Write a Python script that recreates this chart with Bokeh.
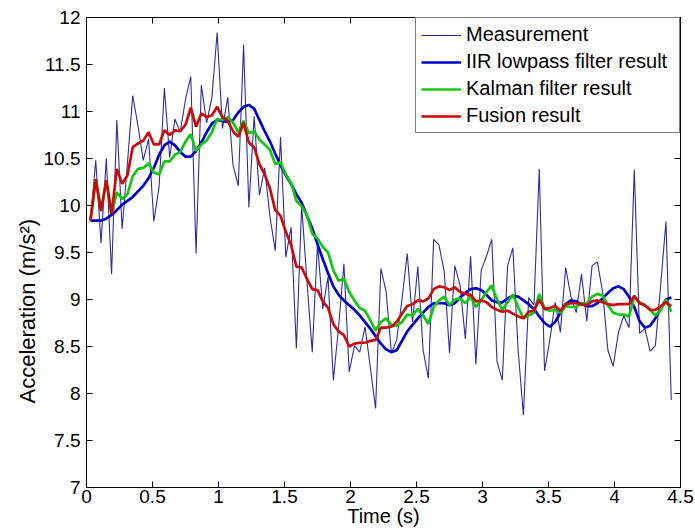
import numpy as np
from bokeh.plotting import figure
from bokeh.models import Range1d, LinearAxis, FixedTicker, Title
from bokeh.embed import file_html
from bokeh.resources import INLINE

# ---- data ----
t_start = 0.03
sample_period = 0.04

measurement = [
    9.84, 10.48, 9.60, 10.50, 9.27, 10.91, 9.75, 10.45, 11.17, 10.85,
    10.48, 10.71, 9.83, 10.20, 11.25, 10.51, 10.92, 10.78, 11.13, 11.37,
    9.49, 11.28, 10.88, 11.15, 11.84, 10.82, 11.15, 10.43, 10.21, 11.71,
    9.98, 10.95, 10.11, 10.40, 9.88, 9.52, 10.73, 9.45, 9.77, 8.48,
    10.00, 9.20, 8.44, 9.59, 8.90, 9.24, 8.14, 8.71, 9.38, 8.23,
    8.51, 8.44, 8.71, 8.28, 7.84, 9.33, 9.08, 8.43, 8.57, 9.00,
    9.49, 8.76, 9.35, 8.46, 8.16, 9.64, 9.58, 9.30, 8.43, 9.36,
    9.15, 8.58, 9.46, 8.31, 9.31, 9.46, 9.64, 8.34, 8.14, 9.36,
    9.55, 8.46, 7.77, 9.02, 8.94, 10.39, 8.24, 8.57, 8.97, 8.65,
    9.34, 9.03, 8.86, 9.27, 8.77, 9.36, 9.40, 9.08, 8.46, 8.29,
    8.65, 8.83, 8.70, 10.38, 8.64, 8.69, 8.45, 8.51, 9.16, 9.83,
    7.93,
]

iir = [
    9.84, 9.84, 9.84, 9.86, 9.90, 9.95, 10.01, 10.05, 10.09, 10.15,
    10.21, 10.29, 10.40, 10.54, 10.64, 10.68, 10.64, 10.57, 10.52, 10.52,
    10.58, 10.67, 10.78, 10.87, 10.91, 10.90, 10.89, 10.91, 10.99, 11.05,
    11.07, 11.03, 10.91, 10.79, 10.68, 10.55, 10.43, 10.32, 10.23, 10.12,
    10.03, 9.89, 9.76, 9.59, 9.43, 9.28, 9.14, 9.05, 8.99, 8.94,
    8.89, 8.83, 8.76, 8.69, 8.61, 8.53, 8.47, 8.44, 8.46, 8.56,
    8.66, 8.73, 8.80, 8.86, 8.92, 8.96, 8.96, 8.96, 8.94, 8.96,
    9.02, 9.07, 9.11, 9.12, 9.10, 9.05, 8.99, 8.97, 8.97, 9.01,
    9.04, 9.03, 8.99, 8.95, 8.90, 8.82, 8.75, 8.71, 8.76, 8.86,
    8.95, 8.99, 8.98, 8.95, 8.93, 8.93, 8.96, 9.01, 9.07, 9.12,
    9.14, 9.11, 9.03, 8.92, 8.77, 8.70, 8.72, 8.80, 8.90, 9.00,
    9.02,
]

kalman = [
    9.84, 10.28, 9.94, 10.27, 9.91, 10.14, 10.07, 10.12, 10.31, 10.39,
    10.40, 10.45, 10.35, 10.33, 10.47, 10.47, 10.54, 10.57, 10.68, 10.76,
    10.58, 10.65, 10.69, 10.78, 10.92, 10.91, 10.94, 10.88, 10.78, 10.90,
    10.77, 10.79, 10.70, 10.65, 10.59, 10.44, 10.46, 10.33, 10.24, 10.05,
    9.99, 9.90, 9.70, 9.65, 9.56, 9.50, 9.31, 9.20, 9.22, 9.08,
    8.99, 8.91, 8.88, 8.78, 8.67, 8.76, 8.80, 8.73, 8.72, 8.76,
    8.84, 8.83, 8.90, 8.83, 8.74, 8.92, 8.99, 9.03, 8.94, 9.00,
    9.01, 8.96, 9.03, 8.92, 8.99, 9.08, 9.15, 9.00, 8.89, 8.97,
    9.05, 8.92, 8.80, 8.83, 8.86, 9.06, 8.90, 8.88, 8.89, 8.86,
    8.93, 8.92, 8.92, 8.96, 8.96, 9.03, 9.06, 9.04, 8.94, 8.86,
    8.84, 8.84, 8.82, 9.03, 8.97, 8.94, 8.89, 8.83, 8.89, 9.00,
    8.87,
]

fusion = [
    9.84, 10.28, 9.94, 10.27, 9.91, 10.39, 10.23, 10.32, 10.62, 10.66,
    10.69, 10.78, 10.65, 10.65, 10.80, 10.75, 10.80, 10.79, 10.86, 11.04,
    10.84, 10.98, 10.94, 10.96, 11.05, 10.94, 10.90, 10.79, 10.73, 10.88,
    10.67, 10.62, 10.44, 10.33, 10.18, 9.95, 9.89, 9.72, 9.58, 9.35,
    9.34, 9.22, 9.11, 9.10, 8.98, 8.91, 8.74, 8.66, 8.62, 8.50,
    8.53, 8.54, 8.54, 8.56, 8.57, 8.70, 8.70, 8.71, 8.76, 8.85,
    8.93, 8.95, 8.99, 8.98, 9.01, 9.11, 9.14, 9.13, 9.10, 9.13,
    9.08, 9.06, 9.05, 8.98, 8.99, 8.97, 8.92, 8.89, 8.87, 8.88,
    8.85, 8.82, 8.80, 8.87, 8.88, 9.00, 8.90, 8.91, 8.93, 8.88,
    8.95, 8.96, 8.96, 8.95, 8.94, 8.98, 8.99, 8.97, 8.95, 8.94,
    8.95, 8.95, 8.95, 9.04, 8.96, 8.94, 8.89, 8.89, 8.93, 8.97,
    8.93,
]

x_ticks = [0, 0.5, 1, 1.5, 2, 2.5, 3, 3.5, 4, 4.5]
x_tick_labels = ["0", "0.5", "1", "1.5", "2", "2.5", "3", "3.5", "4", "4.5"]
y_ticks = [7, 7.5, 8, 8.5, 9, 9.5, 10, 10.5, 11, 11.5, 12]
y_tick_labels = ["7", "7.5", "8", "8.5", "9", "9.5", "10", "10.5", "11", "11.5", "12"]

series_names = ["Measurement", "IIR lowpass filter result",
                "Kalman filter result", "Fusion result"]
x_title = "Time (s)"
y_title = "Acceleration (m/s²)"

time = np.round(t_start + sample_period * np.arange(len(measurement)), 4)

FONT = "Liberation Sans"

p = figure(frame_width=594, frame_height=470,
           min_border_left=86, min_border_right=14,
           min_border_top=17, min_border_bottom=45,
           x_range=Range1d(0, 4.5), y_range=Range1d(7, 12),
           output_backend="svg", toolbar_location=None,
           background_fill_color="white", border_fill_color="white")

p.line(time, measurement, line_color="#2e2ea0", line_width=1.1,
       legend_label=series_names[0])
p.line(time, iir, line_color="#0000cc", line_width=2.7,
       legend_label=series_names[1])
p.line(time, kalman, line_color="#10c810", line_width=2.7,
       legend_label=series_names[2])
p.line(time, fusion, line_color="#cc0a0a", line_width=2.7,
       legend_label=series_names[3])

p.xgrid.visible = False
p.ygrid.visible = False
p.outline_line_color = "black"
p.outline_line_width = 1

xt = FixedTicker(ticks=x_ticks)
yt = FixedTicker(ticks=y_ticks)


def style_axis(ax, labels=None, ticks=None, show_labels=True):
    ax.minor_tick_line_color = None
    ax.major_tick_in = 6
    ax.major_tick_out = 0
    ax.axis_line_color = "black"
    ax.major_tick_line_color = "black"
    ax.major_label_text_font = FONT
    if show_labels:
        ax.major_label_text_color = "black"
        ax.major_label_text_font_size = "19px"
        ax.major_label_overrides = {float(v): s for v, s in zip(ticks, labels)}
    else:
        ax.major_label_text_color = None
        ax.major_label_text_font_size = "1px"
        ax.major_label_standoff = 0


p.xaxis.ticker = xt
p.yaxis.ticker = yt
style_axis(p.xaxis[0], x_tick_labels, x_ticks)
style_axis(p.yaxis[0], y_tick_labels, y_ticks)
p.xaxis.major_label_standoff = 2
p.yaxis.major_label_standoff = 6

# x-axis title
p.xaxis.axis_label = x_title
p.xaxis.axis_label_text_font = FONT
p.xaxis.axis_label_text_font_size = "20px"
p.xaxis.axis_label_text_font_style = "normal"
p.xaxis.axis_label_text_color = "black"
p.xaxis.axis_label_standoff = -1

# y-axis title as a left-side title so it can sit lower than centre
ytitle = Title(text=y_title, align="left", offset=84, vertical_align="middle",
               text_font=FONT, text_font_size="22px", text_font_style="normal",
               text_color="black", standoff=0)
p.add_layout(ytitle, "left")

top_axis = LinearAxis(ticker=xt)
style_axis(top_axis, show_labels=False)
p.add_layout(top_axis, "above")
right_axis = LinearAxis(ticker=yt)
style_axis(right_axis, show_labels=False)
p.add_layout(right_axis, "right")

lg = p.legend[0]
lg.location = "top_right"
lg.margin = 0
lg.border_line_color = "black"
lg.border_line_width = 1
lg.background_fill_color = "white"
lg.background_fill_alpha = 1
lg.label_text_font = FONT
lg.label_text_font_size = "20px"
lg.label_text_color = "black"
lg.padding = 5
lg.spacing = 4
lg.glyph_width = 40
lg.glyph_height = 22
lg.label_height = 22
lg.label_standoff = 5
lg.label_width = 208

open("out.html", "w").write(file_html(p, INLINE))
